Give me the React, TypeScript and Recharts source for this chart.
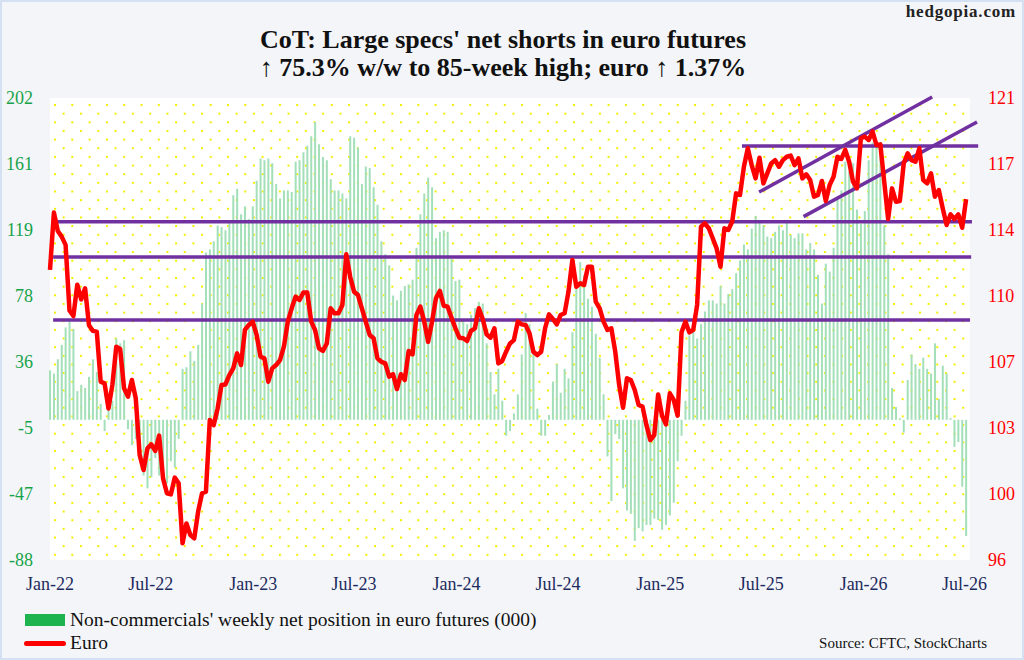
import React from "react";
import {
  ComposedChart,
  Bar,
  Line,
  XAxis,
  YAxis,
  CartesianGrid,
  ReferenceLine,
} from "recharts";

// Weekly CoT net position of non-commercials in euro futures (000), Jan-22 .. Jul-26
const netPosition = [
  31, 29, 38, 47, 58, 62, 57, 18, 22, 20, 27, 38, 30, 10, -7, 8, 12, 51, 48, 50,
  -6, -16, -12, -25, -35, -43, -36, -24, -35, -30, -40, -26, -30, -12, 32, 33, 43, 37, 47, 73,
  105, 107, 112, 122, 121, 119, 125, 141, 145, 129, 134, 126, 134, 150, 164, 163, 164, 161, 148, 139,
  144, 144, 143, 162, 163, 168, 172, 178, 187, 173, 165, 163, 151, 144, 144, 142, 139, 178, 177, 171,
  148, 159, 158, 146, 135, 112, 104, 97, 78, 75, 81, 84, 85, 88, 108, 129, 142, 152, 146, 114,
  118, 119, 118, 101, 87, 88, 62, 60, 66, 70, 74, 73, 48, 30, 16, 32, 12, -10, -7, 4,
  16, 41, 67, 60, 46, 7, -10, -10, 3, 24, 35, 17, 32, 26, 55, 86, 99, 91, 76, 71,
  54, 39, 16, -23, -51, -9, -12, -43, -57, -59, -76, -68, -70, -66, -66, -62, -63, -69, -66, -60,
  -52, -26, -10, 12, 53, 57, 51, 60, 68, 75, 75, 73, 84, 73, 79, 82, 92, 100, 110, 107,
  120, 128, 125, 122, 115, 114, 118, 122, 119, 124, 116, 114, 117, 117, 107, 111, 107, 91, 73, 98,
  93, 108, 139, 144, 162, 156, 161, 132, 123, 131, 163, 174, 171, 171, 122, 104, 20, 8, 1, -8,
  25, 41, 35, 32, 39, 32, 29, 48, 13, 34, 29, 1, -17, -14, -42, -73,
];

// Euro index (EUR/USD x 100), same weeks
const euro = [
  111.7, 114.8, 113.8, 113.5, 113.05, 109.5, 109.2, 110.9, 110.1, 110.7,
  108.7, 108.4, 108.36, 105.65, 105.56, 104.2, 105.47, 107.54, 107.42, 105.29,
  104.84, 105.74, 104.75, 101.68, 100.87, 102.04, 102.26, 101.9, 102.73, 100.42,
  99.61, 99.55, 100.46, 100.15, 96.9, 97.98, 97.35, 97.17, 98.62, 99.61,
  99.7, 103.58, 103.3, 104.2, 105.47, 105.5, 106.0, 106.37, 107.18, 106.55,
  108.45, 108.72, 108.9, 108.18, 107.0, 106.91, 105.65, 106.37, 106.55, 106.82,
  107.54, 108.9, 109.62, 110.25, 110.07, 110.48, 110.47, 108.9, 108.45, 107.45,
  107.31, 107.72, 109.62, 109.35, 109.35, 109.8, 112.54, 111.33, 110.52, 110.34,
  109.62, 108.9, 108.18, 108.0, 106.91, 106.73, 106.64, 105.92, 106.05, 105.25,
  106.05, 105.74, 107.31, 107.13, 109.26, 109.71, 108.9, 107.81, 108.9, 110.16,
  110.56, 109.76, 109.71, 109.11, 108.54, 108.03, 108.0, 107.85, 108.4, 108.54,
  109.62, 109.04, 108.21, 108.03, 108.54, 106.64, 106.77, 107.27, 107.72, 107.9,
  108.9, 108.75, 108.72, 108.27, 107.27, 107.09, 107.27, 108.54, 109.29, 109.04,
  108.75, 109.26, 109.35, 110.52, 112.23, 110.79, 110.97, 110.88, 111.87, 111.87,
  109.98, 109.62, 108.9, 108.45, 108.54, 107.27, 105.47, 104.24, 105.83, 105.74,
  105.2, 104.39, 104.3, 103.3, 102.49, 102.76, 104.96, 103.81, 103.34, 105.02,
  104.66, 103.81, 108.32, 108.9, 108.32, 108.45, 109.8, 114.04, 114.22, 113.95,
  113.41, 112.86, 111.87, 113.95, 113.86, 114.31, 115.84, 115.75, 117.28, 118.28,
  117.37, 116.65, 117.77, 116.38, 116.92, 117.46, 117.64, 117.28, 117.64, 117.82,
  117.88, 117.37, 117.73, 116.65, 116.87, 116.56, 115.66, 115.75, 116.51, 115.43,
  116.29, 116.74, 117.82, 117.7, 118.19, 117.55, 116.47, 116.11, 118.82, 118.91,
  118.73, 119.18, 118.46, 118.49, 116.47, 114.45, 116.11, 115.39, 115.43, 117.46,
  118.0, 117.64, 117.55, 118.28, 116.56, 116.38, 116.92, 115.66, 116.02, 115.03,
  114.13, 114.7, 114.45, 114.7, 113.98, 115.53,
];

const tickLabels = ["Jan-22", "Jul-22", "Jan-23", "Jul-23", "Jan-24", "Jul-24", "Jan-25", "Jul-25", "Jan-26", "Jul-26"];
const tickMonths: [number, number][] = [
  [2022, 0], [2022, 6], [2023, 0], [2023, 6], [2024, 0],
  [2024, 6], [2025, 0], [2025, 6], [2026, 0], [2026, 6],
];

const leftDomain = [-88, 202];
const rightDomain = [96, 121];

// support / resistance and channel lines drawn on the chart (week index, euro)
const flatLevels = [
  { from: 1.3, to: 236.5, level: 114.31 },
  { from: 0.8, to: 236.3, level: 112.4 },
  { from: 0.8, to: 236, level: 108.99 },
  { from: 177.5, to: 238.1, level: 118.4 },
];
const channelLines = [
  { x1: 181.9, y1: 115.91, x2: 226.3, y2: 121.05 },
  { x1: 193.3, y1: 114.58, x2: 237.8, y2: 119.7 },
];

const START = Date.UTC(2022, 0, 1);
const WEEK = 7 * 86400000;
const tickPos = tickMonths.map(([y, m]) => (Date.UTC(y, m, 1) - START) / WEEK);

// 8 evenly spaced ticks across each domain
const evenTicks = (d: number[]) => Array.from({ length: 8 }, (_, k) => d[0] + ((d[1] - d[0]) * k) / 7);

const data = netPosition.map((net, i) => ({ i, net, euro: euro[i] }));

const serif = "'Liberation Serif', 'Times New Roman', serif";
const PURPLE = "#7030a0";

const App: React.FC = () => {
  return (
    <div
      style={{
        position: "absolute",
        left: 0,
        top: 0,
        width: 1024,
        height: 660,
        background: "#f4f5f8",
        fontFamily: serif,
        overflow: "hidden",
      }}
    >
      <div
        style={{
          position: "absolute",
          left: 0,
          top: 0,
          width: 1024,
          height: 660,
          boxSizing: "border-box",
          border: "2px solid #d3e1f3",
          pointerEvents: "none",
          zIndex: 2,
        }}
      />
      {/* titles */}
      <div
        style={{
          position: "absolute",
          top: 26,
          left: 0,
          width: 1006,
          textAlign: "center",
          fontSize: 26,
          lineHeight: "28px",
          fontWeight: "bold",
          color: "#111",
        }}
      >
        <div>CoT: Large specs' net shorts in euro futures</div>
        <div>↑ 75.3% w/w to 85-week high; euro ↑ 1.37%</div>
      </div>
      <div
        style={{
          position: "absolute",
          top: 2,
          right: 8,
          fontSize: 17,
          fontWeight: "bold",
          letterSpacing: 0.8,
          color: "#222",
        }}
      >
        hedgopia.com
      </div>

      <div style={{ position: "absolute", left: 0, top: 0 }}>
        <ComposedChart
          width={1024}
          height={660}
          data={data}
          margin={{ top: 98, right: 0, bottom: 0, left: 0 }}
        >
          <defs>
            <pattern id="dots" x={54} y={104} width={17.3} height={17.3} patternUnits="userSpaceOnUse">
              <rect x={0} y={0} width={17.3} height={17.3} fill="#ffffff" />
              <rect x={0} y={0} width={2} height={2} fill="#f2ee00" />
              <rect x={8.65} y={8.65} width={2} height={2} fill="#f2ee00" />
            </pattern>
          </defs>
          <CartesianGrid horizontal={false} vertical={false} fill="url(#dots)" />
          <XAxis
            dataKey="i"
            type="number"
            domain={[0, 236]}
            ticks={tickPos}
            tickFormatter={(v: number) => {
              const k = tickPos.findIndex((t) => Math.abs(t - v) < 0.01);
              return k >= 0 ? tickLabels[k] : "";
            }}
            height={100}
            axisLine={false}
            tickLine={false}
            tickMargin={11}
            tick={{ fontSize: 18, fill: "#1c2b5e", fontFamily: serif }}
            interval={0}
          />
          <YAxis
            yAxisId="left"
            domain={leftDomain}
            ticks={evenTicks(leftDomain)}
            tickFormatter={(v: number) => String(Math.round(v))}
            width={50}
            axisLine={false}
            tickLine={false}
            tickMargin={11}
            tick={{ fontSize: 18, fill: "#17a34a", fontFamily: serif }}
            interval={0}
          />
          <YAxis
            yAxisId="right"
            orientation="right"
            domain={rightDomain}
            ticks={evenTicks(rightDomain)}
            tickFormatter={(v: number) => String(Math.round(v))}
            width={54}
            axisLine={false}
            tickLine={false}
            tickMargin={12}
            tick={{ fontSize: 18, fill: "#ff0000", fontFamily: serif }}
            interval={0}
          />
          <Bar
            yAxisId="left"
            dataKey="net"
            barSize={2}
            fill="#a3dfb8"
            isAnimationActive={false}
          />
          {flatLevels.map((l, k) => (
            <ReferenceLine
              key={`h${k}`}
              yAxisId="right"
              segment={[
                { x: l.from, y: l.level },
                { x: l.to, y: l.level },
              ]}
              stroke={PURPLE}
              strokeWidth={3.5}
              ifOverflow="visible"
            />
          ))}
          {channelLines.map((c, k) => (
            <ReferenceLine
              key={`c${k}`}
              yAxisId="right"
              segment={[
                { x: c.x1, y: c.y1 },
                { x: c.x2, y: c.y2 },
              ]}
              stroke={PURPLE}
              strokeWidth={3.5}
              ifOverflow="visible"
            />
          ))}
          <Line
            yAxisId="right"
            type="linear"
            dataKey="euro"
            stroke="#ff0000"
            strokeWidth={4.5}
            strokeLinejoin="round"
            dot={false}
            activeDot={false}
            isAnimationActive={false}
          />
        </ComposedChart>
      </div>

      {/* legend */}
      <div style={{ position: "absolute", left: 25, top: 614, width: 40, height: 12, background: "#1db44f" }} />
      <div style={{ position: "absolute", left: 70, top: 608, fontSize: 19.5, lineHeight: "23px", color: "#111" }}>
        Non-commercials' weekly net position in euro futures (000)
      </div>
      <div style={{ position: "absolute", left: 24, top: 641, width: 42, height: 5, borderRadius: 3, background: "#ff0000" }} />
      <div style={{ position: "absolute", left: 70, top: 631, fontSize: 19.5, lineHeight: "23px", color: "#111" }}>
        Euro
      </div>
      <div style={{ position: "absolute", right: 37, top: 634, fontSize: 15, lineHeight: "18px", color: "#111" }}>
        Source: CFTC, StockCharts
      </div>
    </div>
  );
};

export default App;
